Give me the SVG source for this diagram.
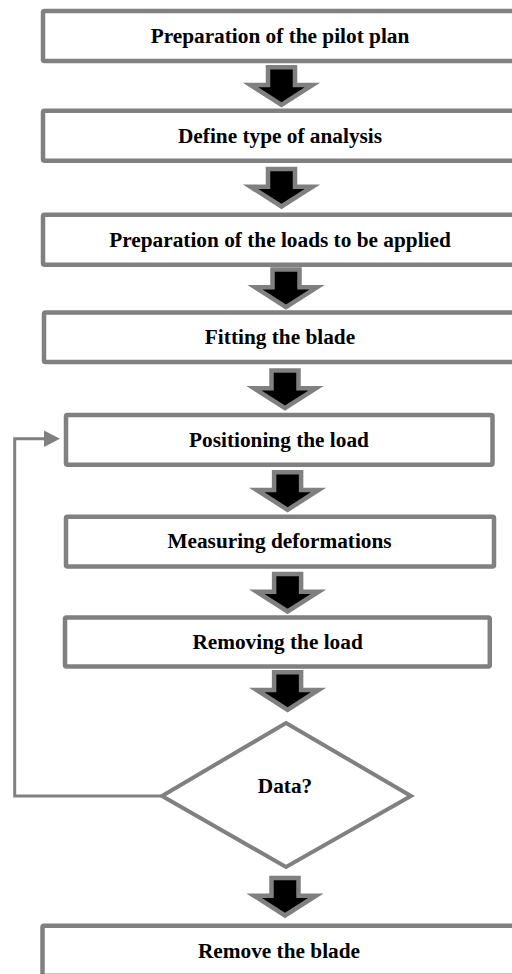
<svg xmlns="http://www.w3.org/2000/svg" xmlns:xlink="http://www.w3.org/1999/xlink" width="512" height="974" viewBox="0 0 512 974">
  <style>
    .box { fill: #ffffff; stroke: #808080; stroke-width: 4.5; }
    .dec { fill: #ffffff; stroke: #808080; stroke-width: 4; stroke-linejoin: miter; }
    .lbl { font-family: "Liberation Serif", "Times New Roman", serif; font-weight: bold; font-size: 21.3px; fill: #000000; text-anchor: middle; }
    .flow { fill: #000000; stroke: #808080; stroke-width: 4.5; stroke-linejoin: miter; }
    .loop { fill: none; stroke: #808080; stroke-width: 3; }
    .loophead { fill: #808080; stroke: none; }
  </style>
  <defs>
    <path id="bigArrow" d="M -13.5 2.2 L 13.5 2.2 L 13.5 20 L 31 20 L 0 39.8 L -31 20 L -13.5 20 Z"/>
  </defs>
  <rect width="512" height="974" fill="#ffffff"/>

  <g id="connectors">
    <use xlink:href="#bigArrow" class="flow" transform="translate(281.5,65)"/>
    <use xlink:href="#bigArrow" class="flow" transform="translate(281.5,166.7)"/>
    <use xlink:href="#bigArrow" class="flow" transform="translate(286,267.3)"/>
    <use xlink:href="#bigArrow" class="flow" transform="translate(285,368.3)"/>
    <use xlink:href="#bigArrow" class="flow" transform="translate(287.6,470)"/>
    <use xlink:href="#bigArrow" class="flow" transform="translate(287.6,571.7)"/>
    <use xlink:href="#bigArrow" class="flow" transform="translate(287.6,670)"/>
    <use xlink:href="#bigArrow" class="flow" transform="translate(285,875.7)"/>
    <polyline class="loop" points="162,796 14.7,796 14.7,438.7 46,438.7"/>
    <polygon class="loophead" points="44,430.5 60,438.7 44,447"/>
  </g>

  <g id="n1">
    <rect class="box" x="43" y="11" width="474" height="50" rx="1.5"/>
    <text class="lbl" x="280" y="42.5">Preparation of the pilot plan</text>
  </g>
  <g id="n2">
    <rect class="box" x="43" y="110.8" width="474" height="50" rx="1.5"/>
    <text class="lbl" x="280" y="142.5">Define type of analysis</text>
  </g>
  <g id="n3">
    <rect class="box" x="43" y="214.8" width="474" height="50" rx="1.5"/>
    <text class="lbl" x="280" y="246.5">Preparation of the loads to be applied</text>
  </g>
  <g id="n4">
    <rect class="box" x="44" y="312.5" width="473" height="49.5" rx="1.5"/>
    <text class="lbl" x="280" y="344">Fitting the blade</text>
  </g>
  <g id="n5">
    <rect class="box" x="66" y="415" width="426.5" height="49.8" rx="1.5"/>
    <text class="lbl" x="279" y="446.8">Positioning the load</text>
  </g>
  <g id="n6">
    <rect class="box" x="66" y="516.8" width="428" height="49.7" rx="1.5"/>
    <text class="lbl" x="279.5" y="548.4">Measuring deformations</text>
  </g>
  <g id="n7">
    <rect class="box" x="65" y="617.5" width="424.8" height="49" rx="1.5"/>
    <text class="lbl" x="277.6" y="648.8">Removing the load</text>
  </g>
  <g id="n8">
    <polygon class="dec" points="286,723 411,796 286,867 162,796"/>
    <text class="lbl" x="285" y="792.7">Data?</text>
  </g>
  <g id="n9">
    <rect class="box" x="42.5" y="925.8" width="475" height="50" rx="1.5"/>
    <text class="lbl" x="279" y="958">Remove the blade</text>
  </g>
</svg>
